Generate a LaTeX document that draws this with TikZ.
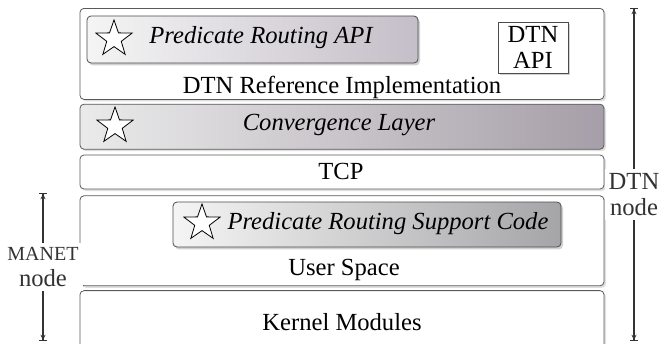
\documentclass[tikz,border=0pt]{standalone}
\usepackage{fontspec}
\setmainfont{Liberation Serif}
\usepackage{tikz}
\usetikzlibrary{arrows.meta, positioning, shadows, shapes.geometric}

\definecolor{convdark}{RGB}{166,158,168}
\definecolor{apidark}{RGB}{196,190,200}
\definecolor{supportdark}{RGB}{165,165,168}

\begin{document}
\begin{tikzpicture}[
x=0.5pt, y=-0.5pt,
node distance=2pt,
layer/.style={rectangle, rounded corners=2pt, draw=black!65, fill=white, minimum width=262pt, drop shadow={opacity=0.25, shadow xshift=1pt, shadow yshift=-1pt}},
funcbox/.style={rectangle, rounded corners=2pt, draw=black!70, drop shadow={opacity=0.35, shadow xshift=1pt, shadow yshift=-1.2pt}},
starmark/.style={star, star points=5, star point ratio=2.5, draw=black, fill=white, inner sep=0pt, minimum size=19pt},
lbl/.style={font=\fontsize{12.3}{13}\selectfont, inner sep=0pt},
span/.style={{Bar[width=4pt]Stealth[length=2.5pt, width=2.5pt]}-{Stealth[length=2.5pt, width=2.5pt]Bar[width=4pt]}, black!80, semithick}
]
\useasboundingbox (0,0) rectangle (662,343);

\node[layer, minimum height=45.5pt, anchor=north] (refimpl) at (342,8) {};
\node[layer, minimum height=22.5pt, left color=black!8, right color=convdark, below=2pt of refimpl] (conv) {};
\node[layer, minimum height=17pt, below=2.5pt of conv] (tcp) {};
\node[layer, minimum height=45pt, below=3pt of tcp] (user) {};
\node[layer, minimum height=29pt, below=2pt of user] (kernel) {};

\node[funcbox, minimum width=165.5pt, minimum height=23.5pt, left color=black!4, right color=apidark] (api) at (252.5,39.5) {};
\node[funcbox, sharp corners, fill=white, minimum width=35pt, minimum height=25.5pt, align=center, lbl, inner sep=0pt] (dtnapi) at (533,47.5) {DTN\\API};
\node[funcbox, minimum width=194pt, minimum height=22.5pt, left color=black!4, right color=supportdark] (support) at (367,224.5) {};

\node[starmark] (star1) at (114,39) {};
\node[starmark] (star2) at (115,126) {};
\node[starmark] (star3) at (202,223) {};

\node[lbl, font=\fontsize{12.3}{13}\selectfont\itshape] (apitxt) at (261,38) {Predicate Routing API};
\node[lbl] (reftxt) at (342,87) {DTN Reference Implementation};
\node[lbl, font=\fontsize{12.3}{13}\selectfont\itshape] (convtxt) at (339,125) {Convergence Layer};
\node[lbl] (tcptxt) at (341,171) {TCP};
\node[lbl, font=\fontsize{12.3}{13}\selectfont\itshape] (supporttxt) at (388,224) {Predicate Routing Support Code};
\node[lbl] (usertxt) at (344,270) {User Space};
\node[lbl] (kerneltxt) at (342,322) {Kernel Modules};

\coordinate (dtntop) at (634,8);
\coordinate (dtnbot) at (634,341);
\coordinate (manettop) at (43,193);
\coordinate (manetbot) at (43,341);

\draw[span] (dtntop) -- node[pos=0.56, fill=white, align=center, lbl, inner sep=2pt] (dtnlbl) {DTN\\node} (dtnbot);
\draw[span] (manettop) -- node[fill=white, align=center, lbl, inner sep=2pt] (manetlbl) {{\fontsize{10}{10}\selectfont MANET}\\node} (manetbot);

\end{tikzpicture}
\end{document}
